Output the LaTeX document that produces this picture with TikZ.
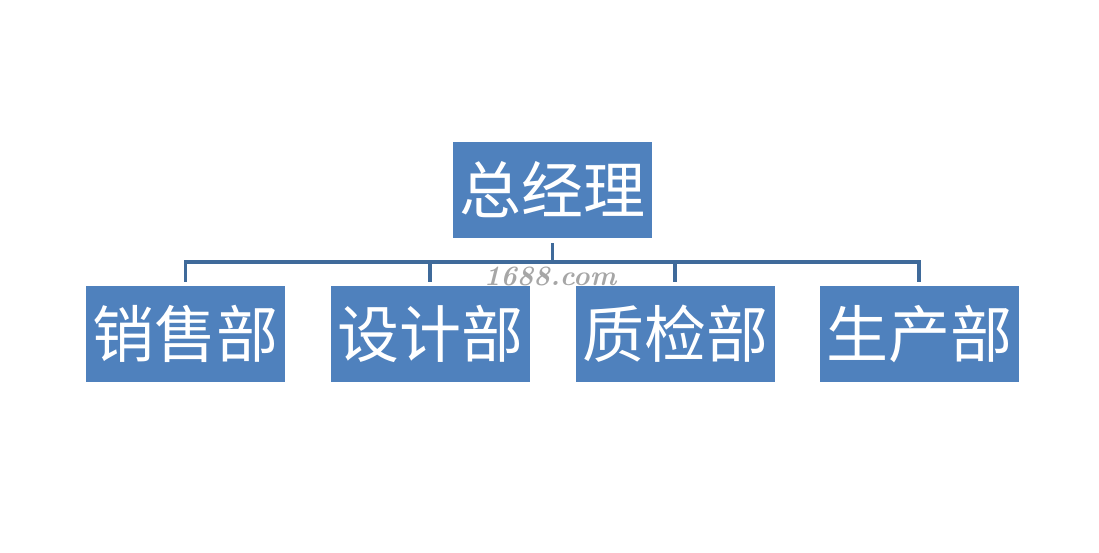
\documentclass[tikz,border=0pt]{standalone}
\usepackage{fontspec}
\newfontfamily\cjk{Noto Sans CJK SC}
\usepackage{xcolor}
\usetikzlibrary{positioning}

\definecolor{boxblue}{HTML}{4F81BD}
\definecolor{linkblue}{HTML}{3F6A9A}

\begin{document}
\begin{tikzpicture}[
  x=1pt, y=1pt,
  unit/.style={fill=boxblue, minimum width=199pt, minimum height=96pt,
               inner sep=0pt, text=white, font=\cjk\fontsize{62}{64}\selectfont},
  link/.style={draw=linkblue, line width=3.5pt, line join=miter,
               shorten <=5pt, shorten >=4pt}
]
\fill[white] (0,0) rectangle (1099,552);
\useasboundingbox (0,0) rectangle (1099,552);

\node[unit] (boss) at (552.5,362) {总经理};

\node[unit] (sales)   at (185.5,218) {销售部};
\node[unit] (design)  at (430,218)   {设计部};
\node[unit] (quality) at (675,218)   {质检部};
\node[unit] (product) at (919,218)   {生产部};

\coordinate (bus) at (0,290);
\foreach \d in {sales,design,quality,product}
  \path[link] (boss.south) -- (boss.south |- bus) -| (\d.north);

% watermark
\node[text=gray!70, font=\rmfamily\bfseries\itshape\fontsize{28}{28}\selectfont]
  (mark) at (550,276) {1688.com};
\end{tikzpicture}
\end{document}
